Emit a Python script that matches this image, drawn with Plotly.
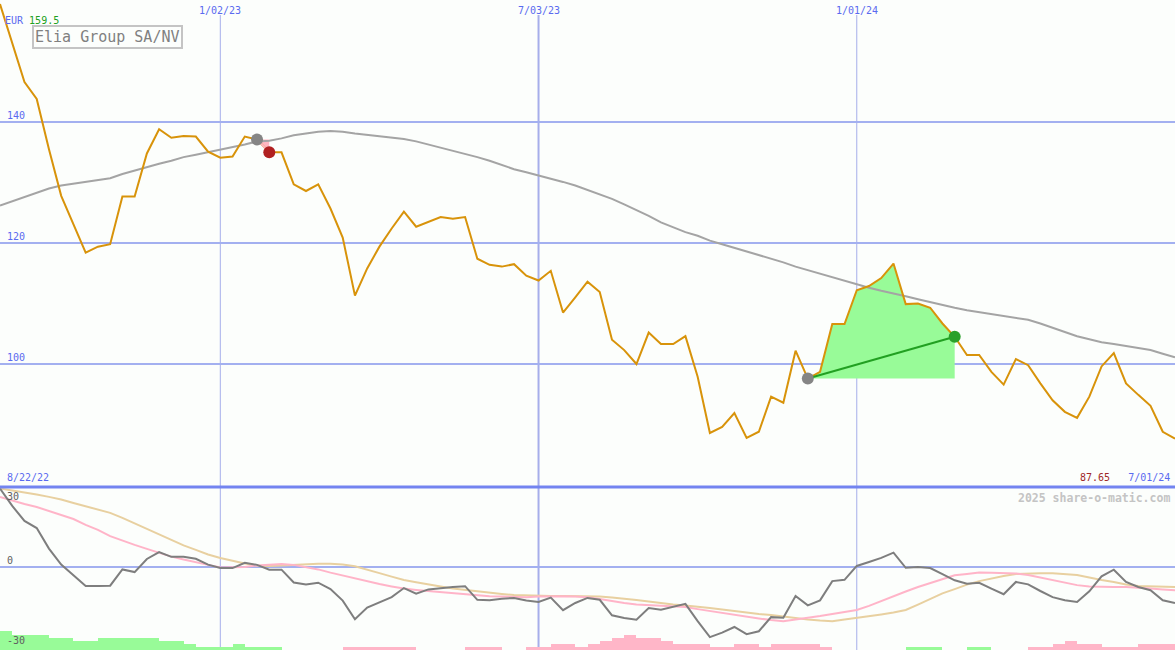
import plotly.graph_objects as go
import pandas as pd

# ---------------- data ----------------
start_date = "2022-08-29"
n_weeks = 97
dates = pd.date_range(start_date, periods=n_weeks, freq="7D")

price = [159.5, 153.1, 146.6, 143.8, 135.5, 127.8, 123.1, 118.4, 119.4, 119.8,
         127.7, 127.7, 134.8, 138.8, 137.4, 137.7, 137.6, 135.1, 134.1, 134.3,
         137.6, 137.1, 135.0, 135.0, 129.7, 128.6, 129.7, 125.7, 120.9, 111.3,
         115.8, 119.4, 122.4, 125.2, 122.7, 123.5, 124.3, 124.0, 124.3, 117.4,
         116.4, 116.1, 116.5, 114.6, 113.8, 115.4, 108.5, 111.0, 113.6, 111.9,
         104.0, 102.3, 100.0, 105.2, 103.3, 103.3, 104.6, 97.9, 88.6, 89.6,
         91.9, 87.8, 88.8, 94.6, 93.6, 102.2, 97.6, 98.7, 106.6, 106.6,
         112.2, 112.9, 114.2, 116.6, 109.9, 110.0, 109.3, 106.7, 104.5, 101.5,
         101.5, 98.7, 96.6, 100.8, 99.8, 96.8, 94.0, 92.1, 91.1, 94.6,
         99.6, 101.8, 96.8, 94.9, 93.1, 88.8, 87.65]

moving_avg = [126.2, 126.9, 127.7, 128.4, 129.0, 129.5, 129.8, 130.2, 130.4, 130.7,
              131.4, 132.0, 132.5, 133.1, 133.6, 134.2, 134.6, 135.0, 135.5, 135.9,
              136.3, 136.8, 136.9, 137.3, 137.8, 138.1, 138.4, 138.5, 138.4, 138.1,
              137.9, 137.7, 137.4, 137.2, 136.8, 136.3, 135.7, 135.2, 134.8, 134.2,
              133.6, 132.9, 132.2, 131.7, 131.2, 130.7, 130.1, 129.5, 128.8, 128.1,
              127.3, 126.4, 125.5, 124.5, 123.4, 122.6, 121.8, 121.2, 120.4, 119.8,
              119.2, 118.7, 118.1, 117.4, 116.8, 116.1, 115.5, 115.0, 114.4, 113.7,
              113.1, 112.6, 112.1, 111.7, 111.2, 110.7, 110.2, 109.8, 109.3, 108.9,
              108.6, 108.3, 108.0, 107.7, 107.3, 106.7, 106.0, 105.2, 104.6, 104.1,
              103.6, 103.3, 103.0, 102.6, 102.3, 101.7, 101.1]

oscillator = [29.4, 22.9, 17.3, 14.6, 6.9, 0.9, -3.1, -7.1, -7.1, -7.0,
              -0.9, -1.9, 3.0, 5.6, 3.8, 3.8, 3.1, 0.9, -0.4, -0.4,
              1.6, 0.8, -1.0, -1.0, -5.8, -6.6, -5.9, -8.3, -12.6, -19.6,
              -15.2, -13.1, -11.3, -7.9, -10.0, -8.4, -7.9, -7.5, -7.2, -12.3,
              -12.5, -11.9, -11.6, -12.6, -13.1, -11.5, -16.2, -13.5, -11.6, -12.3,
              -18.1, -19.1, -19.8, -15.4, -16.0, -15.0, -13.8, -20.3, -26.3, -24.6,
              -22.5, -25.2, -24.1, -18.8, -19.0, -10.9, -14.4, -12.5, -5.3, -4.8,
              0.4, 1.9, 3.4, 5.4, -0.3, 0.0, -0.4, -2.7, -5.0, -6.3,
              -5.9, -8.1, -10.2, -5.6, -6.5, -9.0, -11.3, -12.5, -13.1, -9.1,
              -3.5, -1.0, -5.6, -7.5, -8.7, -12.5, -13.5]

signal_fast = [26.3, 24.9, 23.6, 22.5, 21.0, 19.5, 18.0, 15.8, 13.9, 11.6,
               9.8, 8.3, 6.8, 5.3, 3.9, 2.8, 1.9, 0.8, -0.2, -0.2,
               0.0, 0.6, 0.9, 1.1, 0.8, 0.0, -0.9, -2.1, -3.2, -4.3,
               -5.4, -6.4, -7.3, -8.1, -8.6, -9.0, -9.4, -9.8, -10.2, -10.6,
               -11.0, -11.1, -11.3, -11.3, -11.1, -11.0, -11.0, -11.1, -11.3, -12.0,
               -12.8, -13.5, -14.1, -14.3, -14.4, -14.6, -15.0, -15.8, -16.5, -17.4,
               -18.1, -18.8, -19.3, -19.9, -20.3, -19.7, -19.1, -18.4, -17.6, -16.9,
               -16.1, -14.6, -12.8, -10.7, -9.2, -7.5, -6.0, -4.5, -3.1, -2.6,
               -2.1, -2.2, -2.3, -2.4, -3.0, -3.9, -4.9, -5.8, -6.8, -7.3,
               -7.5, -7.5, -7.5, -7.7, -8.1, -8.4, -8.7]

signal_slow = [29.4, 28.7, 27.9, 27.2, 26.3, 25.3, 24.0, 22.7, 21.4, 20.3,
               18.4, 16.3, 14.3, 12.2, 10.1, 8.1, 6.4, 4.7, 3.4, 2.3,
               1.3, 0.6, 0.4, 0.6, 0.8, 1.1, 1.2, 1.2, 0.9, 0.3,
               -0.9, -2.3, -3.6, -4.9, -5.7, -6.6, -7.3, -8.1, -8.6, -9.2,
               -9.8, -10.1, -10.5, -10.7, -10.9, -10.9, -10.9, -10.9, -10.9, -11.1,
               -11.4, -11.8, -12.4, -12.9, -13.5, -14.1, -14.4, -14.8, -15.4, -15.9,
               -16.5, -17.1, -17.6, -18.0, -18.6, -19.1, -19.7, -20.1, -20.3, -19.7,
               -19.1, -18.6, -17.8, -17.1, -16.1, -14.1, -12.0, -9.9, -8.3, -6.6,
               -5.3, -4.3, -3.4, -2.6, -2.4, -2.3, -2.3, -2.6, -3.0, -3.9,
               -4.9, -5.6, -6.6, -7.1, -7.3, -7.5, -7.5]

# weekly histogram levels (positive = green, negative = pink), one per week interval
hist_levels = [6.3, 5, 5, 5, 4, 4, 3, 3, 4, 4,
               4, 4, 4, 3, 3, 2, 1, 1, 1, 2,
               1, 1, 1, 0, 0, 0, 0, 0, -1, -1,
               -1, -1, -1, -1, 0, 0, 0, 0, -1, -1,
               -1, 0, 0, -1, -1, -2, -2, -1, -2, -3,
               -4, -5, -4, -4, -3, -2, -2, -2, -1, -1,
               -2, -2, -1, -2, -2, -2, -2, -1, 0, 0,
               0, 0, 0, 0, 1, 1, 1, 0, 0, 1,
               1, 0, 0, 0, -1, -1, -2, -3, -2, -2,
               -1, -1, -1, -2, -2, -2]

# trades (week indices)
trade_losing = (21, 22)
trade_winning = (66, 78)

tick_dates = ["2023-01-02", "2023-07-03", "2024-01-01"]
tick_labels = ["1/02/23", "7/03/23", "1/01/24"]
price_ticks = [100, 120, 140]
osc_ticks = [30, 0, -30]
title = "Elia Group SA/NV"
currency = "EUR"
first_date_label = "8/22/22"
last_date_label = "7/01/24"

# ---------------- styles ----------------
BG = "#FCFEFC"
BLUE_TXT = "#5A6AF0"
GRID = "#A3B0F0"
MONO = "DejaVu Sans Mono"
H = 650
split = 1 - 487 / H

fig = go.Figure()

# lower panel: histogram bars (drawn first, underneath)
week_ms = 7 * 24 * 3600 * 1000
fig.add_trace(go.Bar(x=dates[:-1], y=[abs(v) for v in hist_levels], yaxis="y3",
                     marker=dict(color=["#98FB98" if v > 0 else "#FFB6C8" for v in hist_levels],
                                 line=dict(width=0)),
                     width=week_ms, offset=0))

# winning-trade fill
e, x_ = trade_winning
fig.add_trace(go.Scatter(x=dates[e:x_ + 1], y=[price[e]] * (x_ - e + 1), mode="lines",
                         line=dict(width=0), hoverinfo="skip"))
fig.add_trace(go.Scatter(x=dates[e:x_ + 1], y=price[e:x_ + 1], mode="lines",
                         line=dict(width=0), fill="tonexty", fillcolor="#98FB98", hoverinfo="skip"))
# losing-trade fill
e2, x2 = trade_losing
fig.add_trace(go.Scatter(x=dates[e2:x2 + 1], y=[price[e2]] * (x2 - e2 + 1), mode="lines",
                         line=dict(width=0), hoverinfo="skip"))
fig.add_trace(go.Scatter(x=dates[e2:x2 + 1], y=price[e2:x2 + 1], mode="lines",
                         line=dict(width=0), fill="tonexty", fillcolor="#FFB6C1", hoverinfo="skip"))

# moving average and price
fig.add_trace(go.Scatter(x=dates, y=moving_avg, mode="lines",
                         line=dict(color="#A4A4A4", width=2)))
fig.add_trace(go.Scatter(x=dates, y=price, mode="lines",
                         line=dict(color="#D8930A", width=2)))

# trade lines and markers
fig.add_trace(go.Scatter(x=[dates[e], dates[x_]], y=[price[e], price[x_]], mode="lines",
                         line=dict(color="#22A022", width=2)))
fig.add_trace(go.Scatter(x=[dates[e2], dates[x2]], y=[price[e2], price[x2]], mode="lines",
                         line=dict(color="#FFB6C1", width=2)))
fig.add_trace(go.Scatter(x=[dates[e], dates[e2]], y=[price[e], price[e2]], mode="markers",
                         marker=dict(color="#858585", size=12)))
fig.add_trace(go.Scatter(x=[dates[x_]], y=[price[x_]], mode="markers",
                         marker=dict(color="#2AA02A", size=12)))
fig.add_trace(go.Scatter(x=[dates[x2]], y=[price[x2]], mode="markers",
                         marker=dict(color="#B02020", size=12)))

# lower panel lines
fig.add_trace(go.Scatter(x=dates, y=signal_slow, yaxis="y2", mode="lines",
                         line=dict(color="#E8D0A0", width=2)))
fig.add_trace(go.Scatter(x=dates, y=signal_fast, yaxis="y2", mode="lines",
                         line=dict(color="#FFB4C8", width=2)))
fig.add_trace(go.Scatter(x=dates, y=oscillator, yaxis="y2", mode="lines",
                         line=dict(color="#7E7E7E", width=2)))

shapes = []
for d, lab in zip(tick_dates, tick_labels):
    shapes.append(dict(type="line", xref="x", yref="paper", x0=d, x1=d, y0=0, y1=1 - 15 / H,
                       line=dict(color="#A6AEEA", width=2 if lab.startswith("7/") else 1),
                       layer="below"))
shapes.append(dict(type="line", xref="paper", yref="paper", x0=0, x1=1, y0=split, y1=split,
                   line=dict(color="#7384F0", width=3), layer="above"))

annotations = []
for d, lab in zip(tick_dates, tick_labels):
    annotations.append(dict(x=d, xref="x", y=1 - 3 / H, yref="paper", text=lab, showarrow=False,
                            xanchor="center", yanchor="top",
                            font=dict(family=MONO, size=10, color=BLUE_TXT)))
for v in price_ticks:
    annotations.append(dict(x=5 / 1175, xref="paper", y=v, yref="y", text=str(v), showarrow=False,
                            xanchor="left", yanchor="bottom", yshift=-1,
                            font=dict(family=MONO, size=10, color=BLUE_TXT)))
for v in osc_ticks:
    annotations.append(dict(x=5 / 1175, xref="paper", y=v, yref="y2", text=str(v), showarrow=False,
                            xanchor="left", yanchor="top" if v > 0 else "bottom",
                            yshift=-2 if v > 0 else -1,
                            font=dict(family=MONO, size=10, color="#606060")))
annotations += [
    dict(x=3 / 1175, xref="paper", y=1 - 20 / H, yref="paper", showarrow=False,
         xanchor="left", yanchor="middle",
         text=f'<span style="color:{BLUE_TXT}">{currency}</span> '
              f'<span style="color:#20A020">{max(price)}</span>',
         font=dict(family=MONO, size=10)),
    dict(x=32 / 1175, xref="paper", y=1 - 25 / H, yref="paper", showarrow=False,
         xanchor="left", yanchor="top", text=title, bgcolor=BG,
         bordercolor="#C4C4C4", borderwidth=2, borderpad=1,
         font=dict(family=MONO, size=15, color="#808080")),
    dict(x=5 / 1175, xref="paper", y=split, yref="paper", showarrow=False,
         xanchor="left", yanchor="bottom", yshift=2, text=first_date_label,
         font=dict(family=MONO, size=10, color=BLUE_TXT)),
    dict(x=1 - 3 / 1175, xref="paper", y=split, yref="paper", showarrow=False,
         xanchor="right", yanchor="bottom", yshift=2,
         text=f'<span style="color:#A02828">{price[-1]}</span>   {last_date_label}',
         font=dict(family=MONO, size=10, color=BLUE_TXT)),
    dict(x=1 - 3 / 1175, xref="paper", y=split, yref="paper", showarrow=False,
         xanchor="right", yanchor="top", yshift=-2, text="<b>2025 share-o-matic.com</b>",
         font=dict(family=MONO, size=11.5, color="#C4C4C4")),
]

fig.update_layout(
    width=1175, height=650, margin=dict(l=0, r=0, t=0, b=0),
    paper_bgcolor=BG, plot_bgcolor=BG, showlegend=False, bargap=0,
    xaxis=dict(range=[dates[0], dates[-1]], visible=False, domain=[0, 1], fixedrange=True),
    yaxis=dict(domain=[split, 1], range=[79.67, 160.17], tickvals=price_ticks,
               showticklabels=False, showgrid=True, gridcolor=GRID, gridwidth=2,
               zeroline=False, showline=False, ticks=""),
    yaxis2=dict(domain=[0, split], range=[-31.125, 30], tickvals=[0],
                showticklabels=False, showgrid=True, gridcolor=GRID, gridwidth=2,
                zeroline=False, showline=False, ticks=""),
    yaxis3=dict(overlaying="y2", range=[0, 163 / 3], visible=False),
    shapes=shapes, annotations=annotations,
)

fig.write_html("out.html", config={"displayModeBar": False},
               post_script="document.body.style.margin='0';document.body.style.padding='0';"
                           "document.body.style.overflow='hidden';"
                           f"document.body.style.background='{BG}';")
